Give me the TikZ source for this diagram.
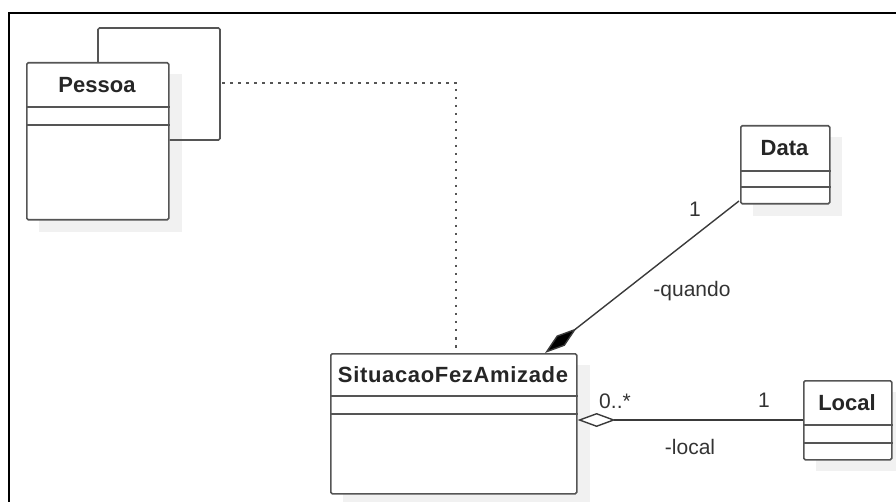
\documentclass[tikz,border=0pt]{standalone}
\usepackage{fontspec}
\setmainfont{Liberation Sans}
\usetikzlibrary{arrows.meta}
\definecolor{boxline}{HTML}{555555}
\definecolor{shadowgray}{HTML}{F1F1F1}
\definecolor{conn}{HTML}{3A3A3A}
\tikzset{
  classbox/.style={draw=boxline, line width=1.6pt, rounded corners=1.5pt, fill=white, inner sep=0pt, anchor=north west},
  classname/.style={font=\fontsize{22}{26}\selectfont\bfseries, text=black!85, inner sep=0pt},
  lbl/.style={font=\fontsize{21}{25}\selectfont, text=black!80, inner sep=0pt},
  divider/.style={draw=boxline, line width=1.6pt},
  conline/.style={draw=conn, line width=1.4pt},
  dotline/.style={draw=boxline, line width=1.5pt, dash pattern=on 2.5pt off 5.5pt},
}
\begin{document}
\begin{tikzpicture}[x=1pt,y=-1pt]
\useasboundingbox (0,0) rectangle (896,502);
% frame
\draw[line width=2.5pt, black] (9,502) -- (9,13) -- (896,13);
% shadows
\fill[shadowgray] (39,74) rectangle (182,232);
\fill[shadowgray] (343,365) rectangle (590,506);
\fill[shadowgray] (753,137) rectangle (842,216);
\fill[shadowgray] (816,392) rectangle (896,471);
% Pessoa
\node[classbox, minimum width=142pt, minimum height=157pt] (pessoa) at (26,62) {};
\node[classname] (pessoaname) at (97,85) {Pessoa};
\draw[divider] (pessoa.west |- 0,107) -- (pessoa.east |- 0,107);
\draw[divider] (pessoa.west |- 0,125) -- (pessoa.east |- 0,125);
% Situacao
\node[classbox, minimum width=246pt, minimum height=140pt] (sit) at (330,353) {};
\node[classname] (sitname) at (453,375) {\addfontfeature{LetterSpace=3}SituacaoFezAmizade};
\draw[divider] (sit.west |- 0,396) -- (sit.east |- 0,396);
\draw[divider] (sit.west |- 0,414) -- (sit.east |- 0,414);
% Data
\node[classbox, minimum width=89pt, minimum height=78pt] (data) at (740,125) {};
\node[classname] (dataname) at (784.5,148) {Data};
\draw[divider] (data.west |- 0,171) -- (data.east |- 0,171);
\draw[divider] (data.west |- 0,187) -- (data.east |- 0,187);
% Local
\node[classbox, minimum width=88pt, minimum height=79pt] (local) at (803,380) {};
\node[classname] (localname) at (847,402.5) {Local};
\draw[divider] (local.west |- 0,425) -- (local.east |- 0,425);
\draw[divider] (local.west |- 0,443) -- (local.east |- 0,443);
% self association on Pessoa
\coordinate (selfa) at (98,28);
\coordinate (selfb) at (220,28);
\coordinate (selfc) at (220,140);
\draw[divider, rounded corners=1.5pt] (pessoa.north -| 98,0) -- (selfa) -- (selfb) -- (selfc) -- (pessoa.east |- selfc);
% association class dotted link
\coordinate (dotstart) at (222,83);
\coordinate (dotcorner) at (456,83);
\draw[dotline] (dotstart) -- (dotcorner) -- (sit.north -| dotcorner);
% composition Data -- Situacao
\coordinate (datacorner) at (739,201);
\coordinate (sittop) at (545,353);
\draw[conline, -{Diamond[length=40pt, width=13pt, fill=black]}] (datacorner) -- (sittop);
\node[lbl] (one1) at (695,209) {1};
\node[lbl] (quando) at (692,291) {-quando};
% aggregation Local -- Situacao
\draw[conline, -{Diamond[length=38pt, width=14pt, open, fill=white]}] (local.west |- 0,420) -- (sit.east |- 0,420);
\node[lbl] (zero) at (615,401) {0..*};
\node[lbl] (one2) at (764,400) {1};
\node[lbl] (locallbl) at (690,447) {-local};
\end{tikzpicture}
\end{document}
